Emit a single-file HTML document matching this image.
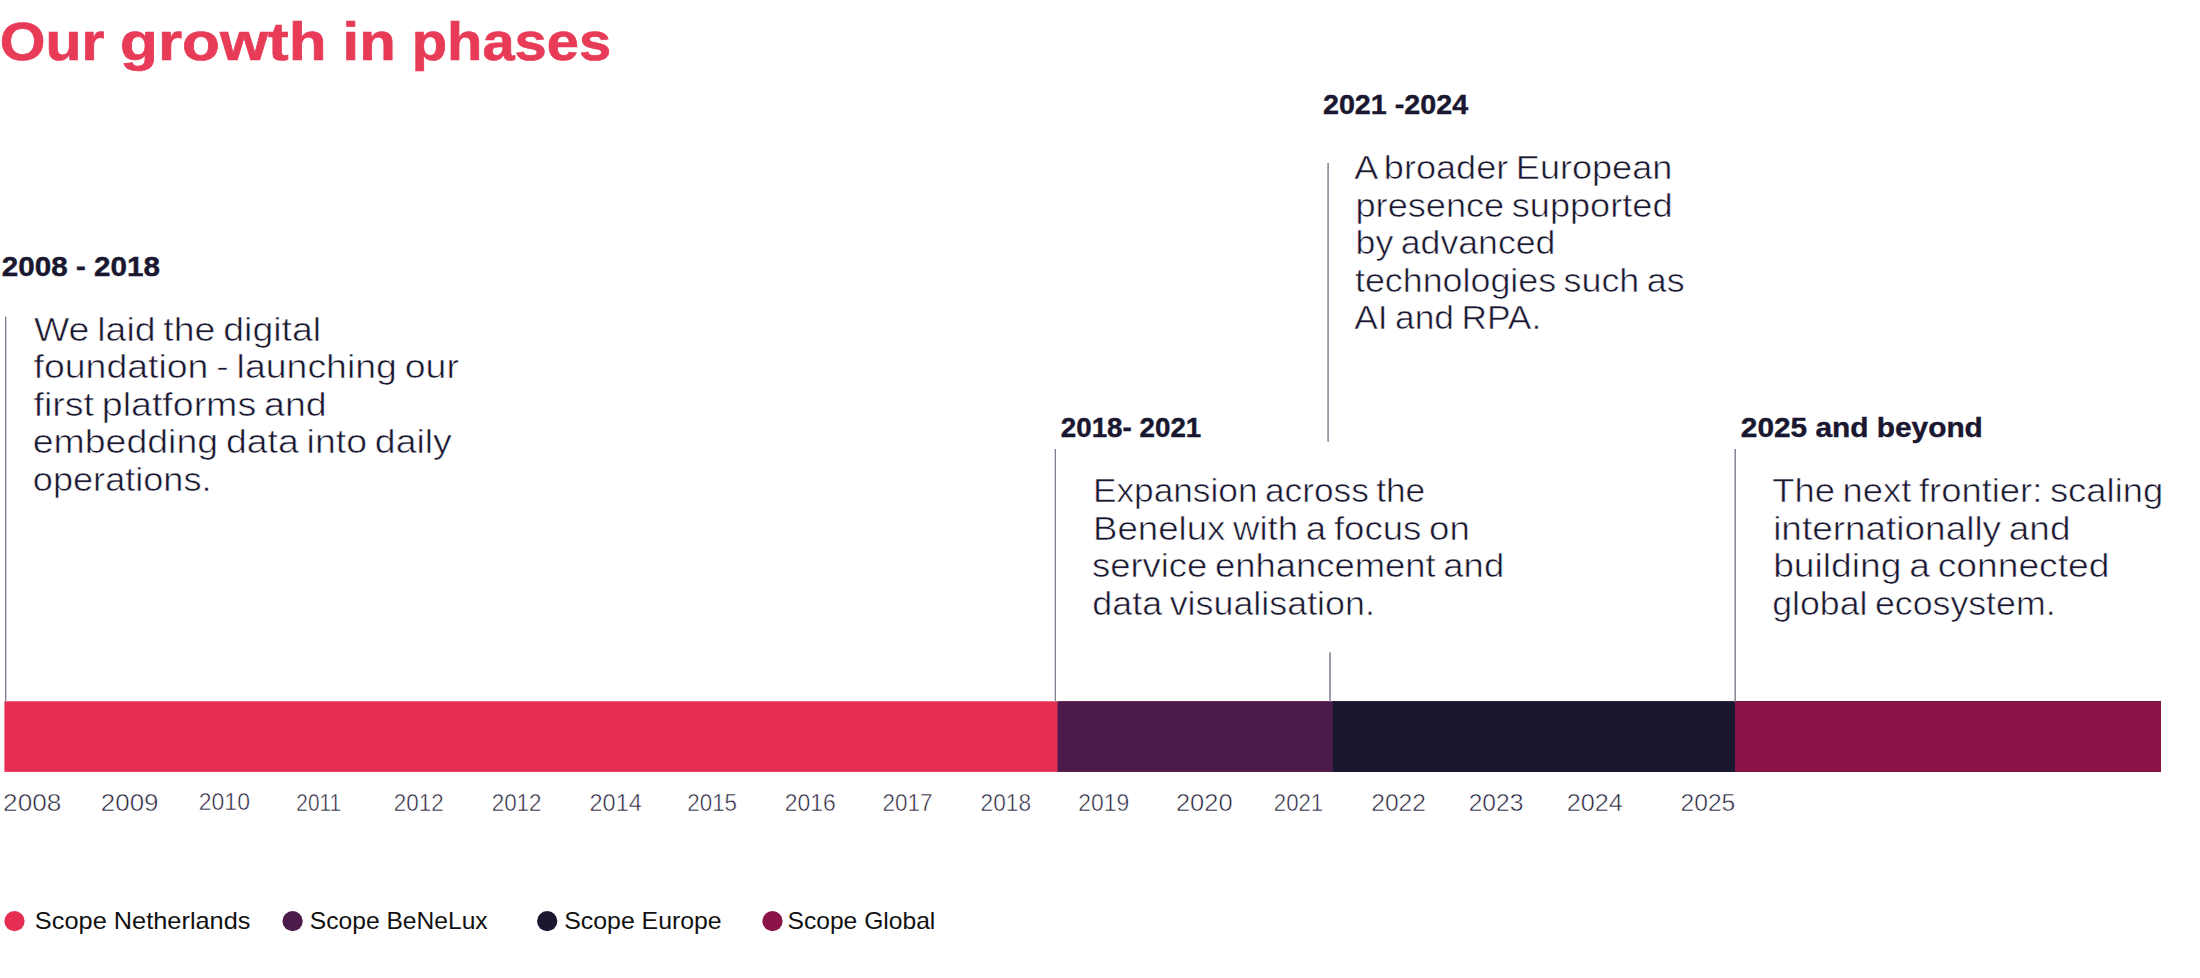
<!DOCTYPE html>
<html lang="en"><head><meta charset="utf-8"><title>Our growth in phases</title>
<style>
html,body{margin:0;padding:0;background:#fff;}
body{width:2200px;height:978px;position:relative;overflow:hidden;font-family:"Liberation Sans",sans-serif;}
.t{position:absolute;left:0;top:0;white-space:nowrap;line-height:1;transform-origin:0 0;display:block;margin:0;}
.s{position:absolute;}
h1,h2,p,ul,li,section{margin:0;padding:0;font:inherit;list-style:none;}
.title{font-size:54px;font-weight:700;color:#e83b57;-webkit-text-stroke:0.7px #e83b57;}
.h{font-size:27.3px;font-weight:700;color:#1a1730;-webkit-text-stroke:0.4px #1a1730;}
.b{font-size:32.3px;font-weight:400;color:#1a1730;-webkit-text-stroke:0.55px #fff;word-spacing:-2.2px;}
.y{font-size:23.0px;font-weight:400;color:#24213a;-webkit-text-stroke:0.5px #fff;}
.g{font-size:23.6px;font-weight:400;color:#111111;}

</style></head>
<body>
<svg class="s shapes" width="2200" height="978" viewBox="0 0 2200 978" style="left:0;top:0">
<rect x="4.4" y="701.25" width="2156.60" height="70.65" fill="#e62e52"/>
<rect x="1057.5" y="701.25" width="1103.50" height="70.65" fill="#4b1c4b"/>
<rect x="1332.7" y="701.25" width="828.30" height="70.65" fill="#1a1730"/>
<rect x="1735.0" y="701.25" width="426.00" height="70.65" fill="#8c1348"/>
<rect x="5" y="316.7" width="1" height="384.80" fill="#82808f"/>
<rect x="6" y="316.7" width="1" height="384.80" fill="#d2d1d9"/>
<rect x="1054" y="449" width="1" height="252.50" fill="#d8d8de"/>
<rect x="1055" y="449" width="1" height="252.50" fill="#807e8e"/>
<rect x="1327" y="163" width="1" height="278.70" fill="#aeadb9"/>
<rect x="1328" y="163" width="1" height="278.70" fill="#9694a3"/>
<rect x="1329" y="652.3" width="1" height="49.20" fill="#9e9caa"/>
<rect x="1330" y="652.3" width="1" height="49.20" fill="#9e9caa"/>
<rect x="1734" y="449" width="1" height="252.50" fill="#b9b8c3"/>
<rect x="1735" y="449" width="1" height="252.50" fill="#8b8998"/>
<circle cx="14.5" cy="921.2" r="10.10" fill="#e62e52"/>
<circle cx="292.6" cy="921.2" r="10.10" fill="#4b1c4b"/>
<circle cx="547.2" cy="921.2" r="10.10" fill="#1a1730"/>
<circle cx="772.5" cy="921.2" r="10.10" fill="#8c1348"/>
</svg>
<h1><span id="t1" class="t title" style="transform:translate(-0.24px,14.05px) scaleX(1.0901)">Our</span> <span id="t2" class="t title" style="transform:translate(120.03px,14.05px) scaleX(1.1479)">growth</span> <span id="t3" class="t title" style="transform:translate(342.53px,14.05px) scaleX(1.1083)">in</span> <span id="t4" class="t title" style="transform:translate(411.77px,14.05px) scaleX(1.0712)">phases</span></h1>
<section class="phase" id="phase1">
<h2 id="h1" class="t h" style="transform:translate(1.76px,252.78px) scaleX(1.0855)">2008 - 2018</h2>
<p><span id="b1l1" class="t b" style="transform:translate(33.91px,313.79px) scaleX(1.1592)">We laid the digital</span>
<span id="b1l2" class="t b" style="transform:translate(33.50px,351.29px) scaleX(1.1595)">foundation - launching our</span>
<span id="b1l3" class="t b" style="transform:translate(33.51px,388.79px) scaleX(1.1619)">first platforms and</span>
<span id="b1l4" class="t b" style="transform:translate(32.76px,426.19px) scaleX(1.1593)">embedding data into daily</span>
<span id="b1l5" class="t b" style="transform:translate(32.84px,463.69px) scaleX(1.1184)">operations.</span></p>
</section>
<section class="phase" id="phase2">
<h2 id="h2" class="t h" style="transform:translate(1060.75px,414.08px) scaleX(1.0177)">2018- 2021</h2>
<p><span id="b2l1" class="t b" style="transform:translate(1092.89px,475.39px) scaleX(1.0918)">Expansion across the</span>
<span id="b2l2" class="t b" style="transform:translate(1093.03px,512.89px) scaleX(1.1338)">Benelux with a focus on</span>
<span id="b2l3" class="t b" style="transform:translate(1091.91px,550.39px) scaleX(1.1280)">service enhancement and</span>
<span id="b2l4" class="t b" style="transform:translate(1092.37px,587.89px) scaleX(1.1101)">data visualisation.</span></p>
</section>
<section class="phase" id="phase3">
<h2 id="h3" class="t h" style="transform:translate(1322.92px,91.18px) scaleX(1.0511)">2021 -2024</h2>
<p><span id="b3l1" class="t b" style="transform:translate(1354.20px,152.09px) scaleX(1.1174)">A broader European</span>
<span id="b3l2" class="t b" style="transform:translate(1355.52px,189.59px) scaleX(1.1189)">presence supported</span>
<span id="b3l3" class="t b" style="transform:translate(1355.57px,227.09px) scaleX(1.1045)">by advanced</span>
<span id="b3l4" class="t b" style="transform:translate(1354.96px,264.59px) scaleX(1.1090)">technologies such as</span>
<span id="b3l5" class="t b" style="transform:translate(1354.25px,302.09px) scaleX(1.0940)">AI and RPA.</span></p>
</section>
<section class="phase" id="phase4">
<h2 id="h4" class="t h" style="transform:translate(1740.79px,414.08px) scaleX(1.0929)">2025 and beyond</h2>
<p><span id="b4l1" class="t b" style="transform:translate(1772.21px,475.29px) scaleX(1.1266)">The next frontier: scaling</span>
<span id="b4l2" class="t b" style="transform:translate(1773.15px,512.79px) scaleX(1.1436)">internationally and</span>
<span id="b4l3" class="t b" style="transform:translate(1773.13px,550.29px) scaleX(1.1522)">building a connected</span>
<span id="b4l4" class="t b" style="transform:translate(1772.22px,587.79px) scaleX(1.1055)">global ecosystem.</span></p>
</section>
<div class="axis"><span id="y0" class="t y" style="transform:translate(3.11px,792.27px) scaleX(1.1383)">2008</span>
<span id="y1" class="t y" style="transform:translate(100.81px,792.27px) scaleX(1.1268)">2009</span>
<span id="y2" class="t y" style="transform:translate(198.80px,790.57px) scaleX(0.9996)">2010</span>
<span id="y3" class="t y" style="transform:translate(296.32px,792.27px) scaleX(0.9061)">2011</span>
<span id="y4" class="t y" style="transform:translate(393.86px,792.27px) scaleX(0.9735)">2012</span>
<span id="y5" class="t y" style="transform:translate(491.65px,792.27px) scaleX(0.9759)">2012</span>
<span id="y6" class="t y" style="transform:translate(589.46px,792.27px) scaleX(1.0236)">2014</span>
<span id="y7" class="t y" style="transform:translate(687.35px,792.27px) scaleX(0.9707)">2015</span>
<span id="y8" class="t y" style="transform:translate(784.79px,792.27px) scaleX(0.9964)">2016</span>
<span id="y9" class="t y" style="transform:translate(882.52px,792.27px) scaleX(0.9745)">2017</span>
<span id="y10" class="t y" style="transform:translate(980.59px,792.27px) scaleX(0.9847)">2018</span>
<span id="y11" class="t y" style="transform:translate(1078.16px,792.27px) scaleX(0.9963)">2019</span>
<span id="y12" class="t y" style="transform:translate(1175.97px,792.27px) scaleX(1.1060)">2020</span>
<span id="y13" class="t y" style="transform:translate(1273.78px,792.27px) scaleX(0.9652)">2021</span>
<span id="y14" class="t y" style="transform:translate(1371.19px,792.27px) scaleX(1.0700)">2022</span>
<span id="y15" class="t y" style="transform:translate(1468.67px,792.27px) scaleX(1.0694)">2023</span>
<span id="y16" class="t y" style="transform:translate(1566.63px,792.27px) scaleX(1.0965)">2024</span>
<span id="y17" class="t y" style="transform:translate(1680.49px,792.27px) scaleX(1.0714)">2025</span></div>
<ul class="legend"><li><span id="g1" class="t g" style="transform:translate(34.87px,910.10px) scaleX(1.0745)">Scope Netherlands</span></li>
<li><span id="g2" class="t g" style="transform:translate(309.80px,910.10px) scaleX(1.0429)">Scope BeNeLux</span></li>
<li><span id="g3" class="t g" style="transform:translate(564.30px,910.10px) scaleX(1.0523)">Scope Europe</span></li>
<li><span id="g4" class="t g" style="transform:translate(787.53px,910.10px) scaleX(1.0431)">Scope Global</span></li></ul>
</body></html>
